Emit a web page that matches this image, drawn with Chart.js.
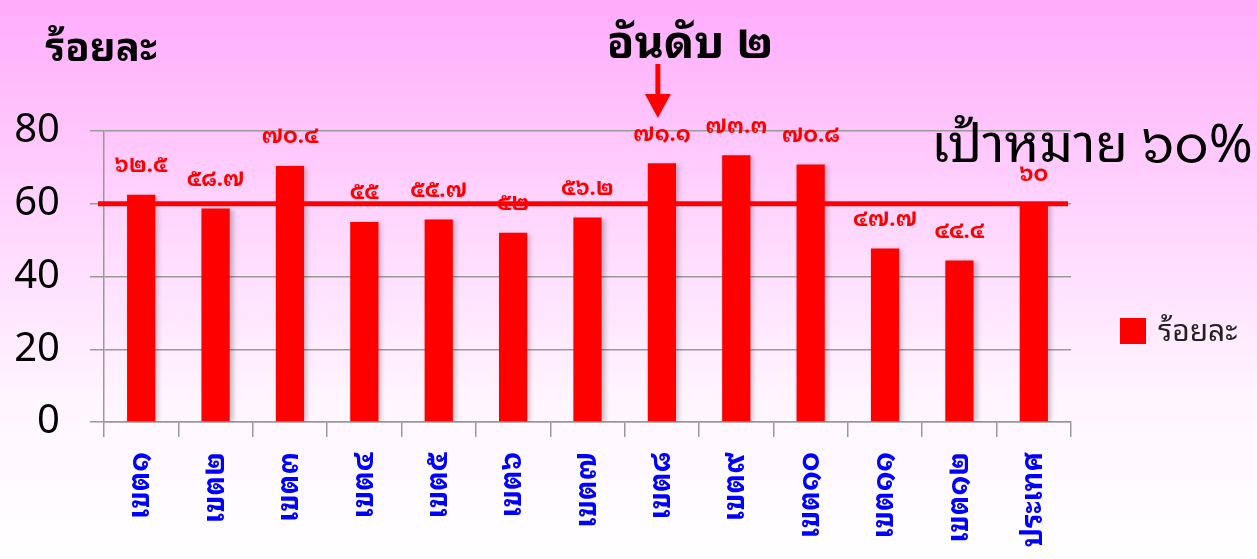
<!DOCTYPE html>
<html lang="th">
<head>
<meta charset="utf-8">
<title>ร้อยละ รายเขต</title>
<script src="https://cdn.jsdelivr.net/npm/chart.js@4/dist/chart.umd.min.js"></script>
<style>
  body { margin: 0; background: #fff; }
  #wrap { width: 1257px; height: 559px; position: relative; }
</style>
</head>
<body>
<div id="wrap"><canvas id="graficoRegiao"></canvas></div>
<script>
// Nomes das categorias (eixo X)
const categorias = ["เขต๑", "เขต๒", "เขต๓", "เขต๔", "เขต๕", "เขต๖", "เขต๗",
                    "เขต๘", "เขต๙", "เขต๑๐", "เขต๑๑", "เขต๑๒", "ประเทศ"];

// Valores das barras (ร้อยละ)
const valores = [62.5, 58.7, 70.4, 55, 55.7, 52, 56.2, 71.1, 73.3, 70.8, 47.7, 44.4, 60];

// Marcas do eixo Y
const ticksY = [0, 20, 40, 60, 80];

// Meta (เป้าหมาย) e a barra destacada com a seta (อันดับ ๒)
const meta = 60;
const indiceDestaque = 7;

const fonteThai = "'Noto Sans Thai Looped', Loma, 'Noto Sans Thai', sans-serif";

// Converte algarismos arábicos para algarismos tailandeses
function numeroThai(v) {
    const digitos = "๐๑๒๓๔๕๖๗๘๙";
    return String(v).replace(/[0-9]/g, d => digitos[d]);
}

// Plugin para fundo, linha da meta, rótulos, seta, textos e legenda
const extras = {
    id: "extras",
    beforeDraw(chart) {
        const { ctx, width, height } = chart;
        const g = ctx.createLinearGradient(0, 0, 0, height);
        g.addColorStop(0, "#ffacfb");
        g.addColorStop(0.35, "#ffd2fd");
        g.addColorStop(0.72, "#fff6ff");
        g.addColorStop(1, "#ffffff");
        ctx.save();
        ctx.fillStyle = g;
        ctx.fillRect(0, 0, width, height);
        ctx.restore();
    },
    beforeDatasetsDraw(chart) {
        // sombra leve nas barras
        const ctx = chart.ctx;
        ctx.save();
        ctx.shadowColor = "rgba(0,0,0,0.25)";
        ctx.shadowBlur = 5;
        ctx.shadowOffsetX = 3;
        ctx.shadowOffsetY = 1;
    },
    afterDatasetsDraw(chart) {
        const { ctx, chartArea, scales } = chart;
        ctx.restore();

        // linha da meta
        const yMeta = scales.y.getPixelForValue(meta);
        ctx.save();
        ctx.strokeStyle = "#ff0000";
        ctx.lineWidth = 5;
        ctx.beginPath();
        ctx.moveTo(chartArea.left - 6, yMeta);
        ctx.lineTo(chartArea.right - 3, yMeta);
        ctx.stroke();

        // rótulos dos valores
        const barras = chart.getDatasetMeta(0).data;
        ctx.fillStyle = "#ff0000";
        ctx.font = "bold 22px " + fonteThai;
        ctx.textAlign = "center";
        ctx.textBaseline = "middle";
        barras.forEach((bar, i) => {
            ctx.fillText(numeroThai(valores[i]), bar.x, bar.y - 29);
        });

        // seta sobre a barra destacada
        const xs = barras[indiceDestaque].x - 4;
        ctx.strokeStyle = "#ff0000";
        ctx.lineWidth = 5;
        ctx.beginPath();
        ctx.moveTo(xs, 64);
        ctx.lineTo(xs, 100);
        ctx.stroke();
        ctx.beginPath();
        ctx.moveTo(xs - 13, 94);
        ctx.lineTo(xs + 13, 94);
        ctx.lineTo(xs, 118);
        ctx.closePath();
        ctx.fill();

        // textos
        ctx.fillStyle = "#000";
        ctx.textBaseline = "alphabetic";
        ctx.font = "bold 45px " + fonteThai;
        ctx.fillText("อันดับ " + numeroThai(2), 690, 58);
        ctx.font = "bold 40px " + fonteThai;
        ctx.fillText("ร้อยละ", 101, 61);
        ctx.font = "53px " + fonteThai;
        ctx.fillText("เป้าหมาย " + numeroThai(meta) + "%", 1092, 162);

        // legenda
        ctx.fillStyle = "#ff0000";
        ctx.fillRect(1120, 318, 26, 26);
        ctx.fillStyle = "#222";
        ctx.textAlign = "left";
        ctx.font = "30px " + fonteThai;
        ctx.fillText("ร้อยละ", 1158, 341);
        ctx.restore();
    }
};

const ctx = document.getElementById("graficoRegiao");

new Chart(ctx, {
    type: "bar",
    data: {
        labels: categorias,
        datasets: [{
            label: "ร้อยละ",
            data: valores,
            backgroundColor: "#ff0000",
            barPercentage: 0.38,
            categoryPercentage: 1
        }]
    },
    options: {
        responsive: true,
        maintainAspectRatio: false,
        animation: false,
        layout: { padding: { left: 13, top: 131, right: 186, bottom: 0 } },
        plugins: {
            legend: { display: false },
            tooltip: { enabled: false }
        },
        scales: {
            x: {
                offset: true,
                afterFit(axis) {
                    axis.height = 137;
                },
                grid: { drawOnChartArea: false, tickLength: 15, color: "#999", lineWidth: 1.5, offset: true },
                border: { color: "#999", width: 1.5 },
                ticks: {
                    color: "#0000ff",
                    font: { family: fonteThai, size: 29, weight: "bold" },
                    minRotation: 90,
                    maxRotation: 90,
                    autoSkip: false,
                    padding: 15
                }
            },
            y: {
                min: 0,
                max: 80,
                afterBuildTicks(axis) {
                    axis.ticks = ticksY.map(v => ({ value: v }));
                },
                afterFit(axis) {
                    axis.width = 91;
                },
                grid: { color: "#999", lineWidth: 1.5, tickLength: 14 },
                border: { color: "#999", width: 1.5 },
                ticks: {
                    color: "#000",
                    font: { family: "'Noto Sans', sans-serif", size: 40 },
                    padding: 30
                }
            }
        }
    },
    plugins: [extras]
});
</script>
</body>
</html>
